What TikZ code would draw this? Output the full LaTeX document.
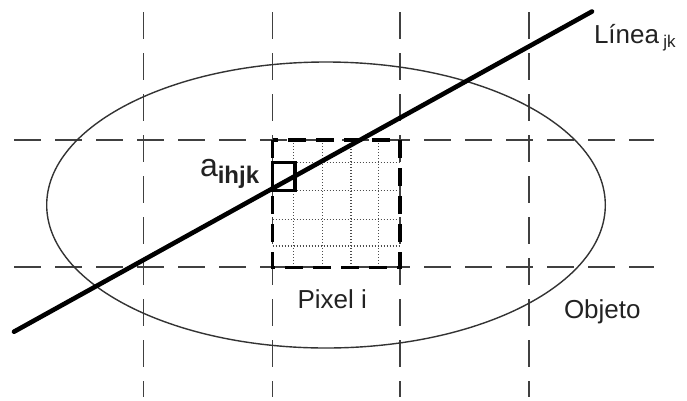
\documentclass[tikz,border=0pt]{standalone}
\usepackage{fontspec}
\setmainfont{Liberation Sans}
\definecolor{ink}{HTML}{222222}
\begin{document}
\begin{tikzpicture}[x=1pt,y=-1pt,
  gridline/.style={draw=black!75, line width=1.7pt, dash pattern=on 27pt off 14pt},
  objline/.style={draw=black!80, line width=1.4pt},
  subgrid/.style={draw=black!70, line width=1.3pt, dash pattern=on 1.4pt off 1.6pt},
  pixbox/.style={draw=black, line width=3.6pt, dash pattern=on 18pt off 10pt},
  cellbox/.style={draw=black, line width=3.2pt},
  ray/.style={draw=black, line width=4.6pt, line cap=round},
  lbl/.style={inner sep=0pt, outer sep=0pt, text=ink, anchor=base west}]
\useasboundingbox (0,0) rectangle (687,400);
% grid
\foreach \gx/\nm in {143.5/v1,272.5/v2,400/v3,528.7/v4}{
  \coordinate (\nm t) at (\gx,12);
  \coordinate (\nm b) at (\gx,397);
  \draw[gridline] (\nm t) -- (\nm b);
}
\foreach \gy/\nm in {140/h1,267.3/h2}{
  \coordinate (\nm l) at (14,\gy);
  \coordinate (\nm r) at (654,\gy);
  \draw[gridline] (\nm l) -- (\nm r);
}
% object
\draw[objline] (326,205) ellipse [x radius=279.3pt, y radius=143pt];
% pixel subgrid
\foreach \sx in {293.3,322.7,351,378.3}{
  \draw[subgrid] (\sx,140) -- (\sx,267.3);
}
\foreach \sy in {162.3,190.7,219.3,246}{
  \draw[subgrid] (272.5,\sy) -- (400,\sy);
}
\draw[pixbox] (272.5,140) rectangle (400,267.3);
\draw[cellbox] (272.7,162.3) rectangle (295,190.7);
% line
\coordinate (l0) at (14,331.7);
\coordinate (l1) at (592,11.5);
\draw[ray] (l0) -- (l1);
% labels
\node[lbl] (linea) at (594,43) {\fontsize{26}{30}\selectfont Línea\,{\fontsize{17}{20}\selectfont\raisebox{-4pt}{jk}}};
\node[lbl] (aijk) at (200,176) {\fontsize{32}{36}\selectfont a{\fontsize{24}{28}\selectfont\bfseries\raisebox{-7pt}{ihjk}}};
\node[lbl] (pixel) at (297.5,308.3) {\fontsize{26}{30}\selectfont Pixel i};
\node[lbl] (objeto) at (564,318.3) {\fontsize{26}{30}\selectfont Objeto};
\end{tikzpicture}
\end{document}
